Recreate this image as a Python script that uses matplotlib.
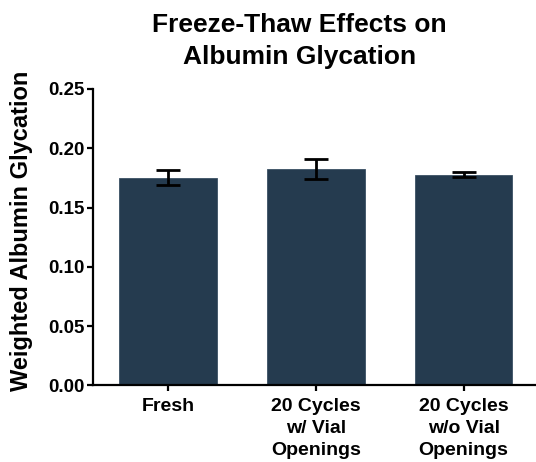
import matplotlib
matplotlib.use('Agg')
import matplotlib.pyplot as plt

plt.rcParams['font.family'] = ['Liberation Sans', 'DejaVu Sans']
plt.rcParams['font.weight'] = 'bold'

groups = ['Fresh', '20 Cycles\nw/ Vial\nOpenings', '20 Cycles\nw/o Vial\nOpenings']
means = [0.175, 0.1825, 0.1775]
errs = [0.0063, 0.0085, 0.0021]
yticks = [0.00, 0.05, 0.10, 0.15, 0.20, 0.25]

fig = plt.figure(figsize=(5.36, 4.62), dpi=100)
ax = fig.add_axes([0.1735, 0.1656, 0.8265, 0.6418])

x = range(len(groups))
ax.bar(x, means, width=0.66, color='#253b4f', edgecolor='#3a5064', linewidth=0.6, zorder=2)
ax.errorbar(x, means, yerr=errs, fmt='none', ecolor='black', elinewidth=2,
            capsize=8.5, capthick=2, zorder=3)

ax.set_xlim(-0.507, 2.49)
ax.set_ylim(0, 0.25)
ax.set_yticks(yticks)
ax.set_yticklabels(['%.2f' % v for v in yticks], fontsize=13.5, fontweight='bold')
ax.set_xticks(list(x))
ax.set_xticklabels(groups, fontsize=14, fontweight='bold', linespacing=1.4)

for s in ['top', 'right']:
    ax.spines[s].set_visible(False)
for s in ['left', 'bottom']:
    ax.spines[s].set_linewidth(1.6)
ax.tick_params(axis='y', direction='out', length=4, width=1.6, pad=2)
ax.tick_params(axis='x', direction='out', length=4, width=1.6, pad=5)

fig.text(0.041, 0.50, 'Weighted Albumin Glycation', rotation=90, ha='center', va='center',
         fontsize=17, fontweight='bold')
fig.text(0.558, 0.972, 'Freeze-Thaw Effects on\nAlbumin Glycation', ha='center', va='top',
         fontsize=19, fontweight='bold', linespacing=1.45)

fig.savefig('out.png', dpi=100)
